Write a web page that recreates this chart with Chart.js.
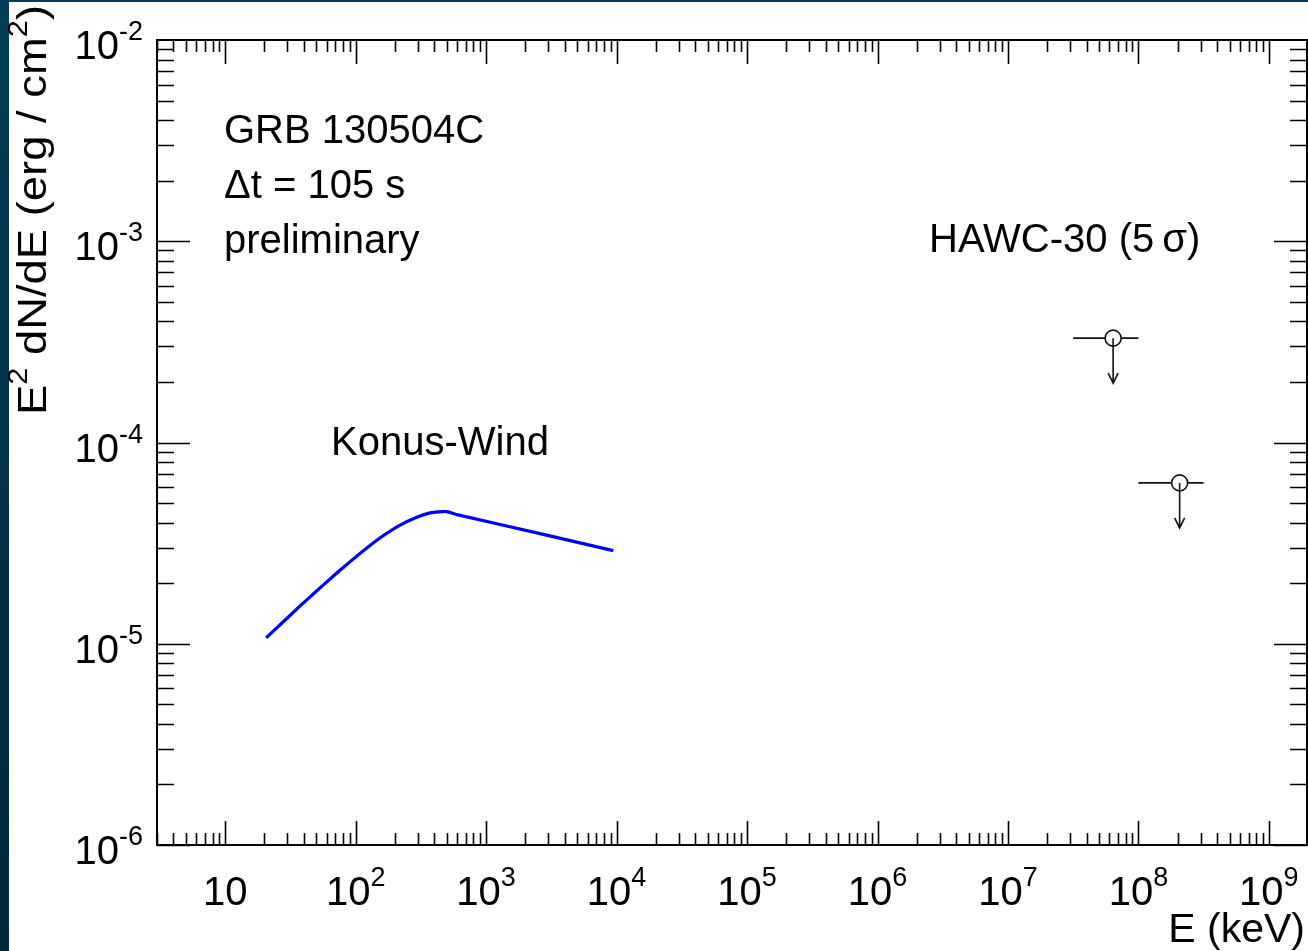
<!DOCTYPE html>
<html>
<head>
<meta charset="utf-8">
<title>GRB 130504C spectral energy distribution</title>
<script src="https://cdn.jsdelivr.net/npm/chart.js@4.4.1/dist/chart.umd.min.js"></script>
<style>
  html, body { margin: 0; padding: 0; background: #fff; }
  #wrap { position: relative; width: 1308px; height: 951px; overflow: hidden; }
  canvas { position: absolute; left: 0; top: 0; }
</style>
</head>
<body>
<div id="wrap"><canvas id="sed" width="1308" height="951"></canvas></div>
<script>
// Konus-Wind Band-function fit (E in keV, E^2 dN/dE in erg/cm^2)
const konusEnergy = [20.6, 28.0, 37.5, 50.4, 67.5, 90.7, 121.8, 163.2, 219, 294, 372, 470, 511, 609, 2590, 9430];
const konusFlux   = [1.070e-5, 1.290e-5, 1.541e-5, 1.833e-5, 2.171e-5, 2.559e-5, 2.993e-5, 3.449e-5,
                     3.889e-5, 4.257e-5, 4.471e-5, 4.538e-5, 4.522e-5, 4.369e-5, 3.525e-5, 2.903e-5];

// HAWC-30 5 sigma upper limits
const hawcEnergy     = [6.4e7, 2.07e8];
const hawcFlux       = [3.3e-4, 6.3e-5];
const hawcEnergyLow  = [3.16e7, 1.0e8];
const hawcEnergyHigh = [1.0e8, 3.16e8];

// Axis decades (exponents of ten) that carry labels
const xTickExps = [1, 2, 3, 4, 5, 6, 7, 8, 9];
const yTickExps = [-6, -5, -4, -3, -2];

const X_MIN = 3, X_MAX = 1.96e9, Y_MIN = 1e-6, Y_MAX = 1e-2;

const FAMILY = '"Liberation Sans", Arial, Helvetica, sans-serif';
const MAIN_FONT = '40px ' + FAMILY;
const SUP_FONT = '27px ' + FAMILY;
const SUP_RAISE = 19;

function drawPower(ctx, base, exp, x, y, align) {
  ctx.font = MAIN_FONT;
  const wb = ctx.measureText(base).width;
  ctx.font = SUP_FONT;
  const we = exp ? ctx.measureText(exp).width : 0;
  const total = wb + we;
  const x0 = align === 'center' ? x - total / 2 : (align === 'right' ? x - total : x);
  ctx.textAlign = 'left';
  ctx.textBaseline = 'alphabetic';
  ctx.font = MAIN_FONT;
  ctx.fillText(base, x0, y);
  if (exp) {
    ctx.font = SUP_FONT;
    ctx.fillText(exp, x0 + wb, y - SUP_RAISE);
  }
}

// Page backdrop: dark slide edge on the left and top
const backdrop = {
  id: 'backdrop',
  beforeDraw(chart) {
    const ctx = chart.ctx;
    const g = ctx.createLinearGradient(0, 0, 0, chart.height);
    g.addColorStop(0, '#033d55');
    g.addColorStop(1, '#00283a');
    ctx.save();
    ctx.fillStyle = g;
    ctx.fillRect(0, 0, chart.width, chart.height);
    ctx.fillStyle = '#ffffff';
    ctx.fillRect(9, 2, chart.width - 9, chart.height - 2);
    ctx.restore();
  }
};

// Frame with inward ticks on all four sides plus tick labels and titles
const frameAxes = {
  id: 'frameAxes',
  afterDatasetsDraw(chart) {
    const ctx = chart.ctx;
    const { left, right, top, bottom } = chart.chartArea;
    const xs = chart.scales.x, ys = chart.scales.y;
    ctx.save();
    ctx.strokeStyle = '#000';
    ctx.fillStyle = '#000';

    // ticks along x (bottom and top)
    ctx.lineWidth = 1.6;
    ctx.beginPath();
    for (let n = 0; n <= 9; n++) {
      for (let k = 1; k <= 9; k++) {
        const v = k * Math.pow(10, n);
        if (v < X_MIN || v > X_MAX) continue;
        const px = Math.round(xs.getPixelForValue(v)) + 0.5;
        const len = k === 1 ? 24 : 12;
        ctx.moveTo(px, bottom); ctx.lineTo(px, bottom - len);
        ctx.moveTo(px, top); ctx.lineTo(px, top + len);
      }
    }
    // ticks along y (left and right)
    for (let n = -6; n <= -3; n++) {
      for (let k = 1; k <= 9; k++) {
        const v = k * Math.pow(10, n);
        if (v < Y_MIN || v > Y_MAX) continue;
        const py = Math.round(ys.getPixelForValue(v)) + 0.5;
        const len = k === 1 ? 33 : 17;
        ctx.moveTo(left, py); ctx.lineTo(left + len, py);
        ctx.moveTo(right, py); ctx.lineTo(right - len, py);
      }
    }
    ctx.stroke();

    // frame
    ctx.lineWidth = 2;
    ctx.strokeRect(left, top, right - left, bottom - top);

    // x tick labels
    xTickExps.forEach(n => {
      const px = xs.getPixelForValue(Math.pow(10, n));
      drawPower(ctx, '10', n === 1 ? '' : String(n), px, 905, 'center');
    });
    // y tick labels
    yTickExps.forEach(n => {
      const py = ys.getPixelForValue(Math.pow(10, n));
      drawPower(ctx, '10', String(n), 143, py + 19, 'right');
    });

    // x title
    ctx.font = '41px ' + FAMILY;
    ctx.textAlign = 'right';
    ctx.fillText('E (keV)', 1305, 942);

    // y title (rotated, running from y = 415 up to y = 5)
    ctx.save();
    const parts = [['E', false], ['2', true], [' dN/dE (erg / cm', false], ['2', true], [')', false]];
    let total = 0;
    parts.forEach(([t, sup]) => {
      ctx.font = sup ? SUP_FONT : MAIN_FONT;
      total += ctx.measureText(t).width;
    });
    ctx.translate(46, 415);
    ctx.rotate(-Math.PI / 2);
    ctx.scale(410 / total, 1);
    let cx = 0;
    ctx.textAlign = 'left';
    parts.forEach(([t, sup]) => {
      ctx.font = sup ? SUP_FONT : MAIN_FONT;
      ctx.fillText(t, cx, sup ? -SUP_RAISE : 0);
      cx += ctx.measureText(t).width;
    });
    ctx.restore();

    // annotations
    ctx.font = MAIN_FONT;
    ctx.textAlign = 'left';
    ctx.fillText('GRB 130504C', 224, 143);
    ctx.fillText('\u0394t = 105 s', 224, 198);
    ctx.fillText('preliminary', 224, 253);
    ctx.fillText('Konus-Wind', 331, 455);
    ctx.fillText('HAWC-30 (5\u2009\u03c3)', 929, 252);
    ctx.restore();
  }
};

// Horizontal energy bins and downward arrows for the upper limits
const upperLimits = {
  id: 'upperLimits',
  afterDatasetsDraw(chart) {
    const ctx = chart.ctx;
    const xs = chart.scales.x, ys = chart.scales.y;
    const r = 8, arrowLen = 45, headLen = 10, headHalf = 5;
    ctx.save();
    ctx.strokeStyle = '#111';
    ctx.lineWidth = 1.6;
    hawcEnergy.forEach((e, i) => {
      const px = xs.getPixelForValue(e);
      const py = ys.getPixelForValue(hawcFlux[i]);
      const xl = xs.getPixelForValue(hawcEnergyLow[i]);
      const xh = xs.getPixelForValue(hawcEnergyHigh[i]);
      ctx.beginPath();
      ctx.moveTo(xl, py); ctx.lineTo(px - r, py);
      ctx.moveTo(px + r, py); ctx.lineTo(xh, py);
      ctx.moveTo(px, py); ctx.lineTo(px, py + arrowLen);
      ctx.moveTo(px - headHalf, py + arrowLen - headLen);
      ctx.lineTo(px, py + arrowLen);
      ctx.lineTo(px + headHalf, py + arrowLen - headLen);
      ctx.stroke();
    });
    ctx.restore();
  }
};

new Chart(document.getElementById('sed'), {
  type: 'scatter',
  data: {
    datasets: [
      {
        label: 'Konus-Wind',
        type: 'line',
        data: konusEnergy.map((e, i) => ({ x: e, y: konusFlux[i] })),
        borderColor: '#0000ff',
        borderWidth: 3.2,
        pointRadius: 0,
        fill: false,
        tension: 0.2
      },
      {
        label: 'HAWC-30 (5 \u03c3)',
        data: hawcEnergy.map((e, i) => ({ x: e, y: hawcFlux[i] })),
        pointStyle: 'circle',
        pointRadius: 8,
        pointBorderWidth: 1.6,
        pointBorderColor: '#111',
        pointBackgroundColor: 'rgba(0,0,0,0)'
      }
    ]
  },
  options: {
    responsive: false,
    devicePixelRatio: 1,
    animation: false,
    layout: { autoPadding: false, padding: { left: 157, top: 40, right: 1, bottom: 106 } },
    plugins: { legend: { display: false }, tooltip: { enabled: false } },
    scales: {
      x: { type: 'logarithmic', min: X_MIN, max: X_MAX, display: false },
      y: { type: 'logarithmic', min: Y_MIN, max: Y_MAX, display: false }
    }
  },
  plugins: [backdrop, frameAxes, upperLimits]
});
</script>
</body>
</html>
